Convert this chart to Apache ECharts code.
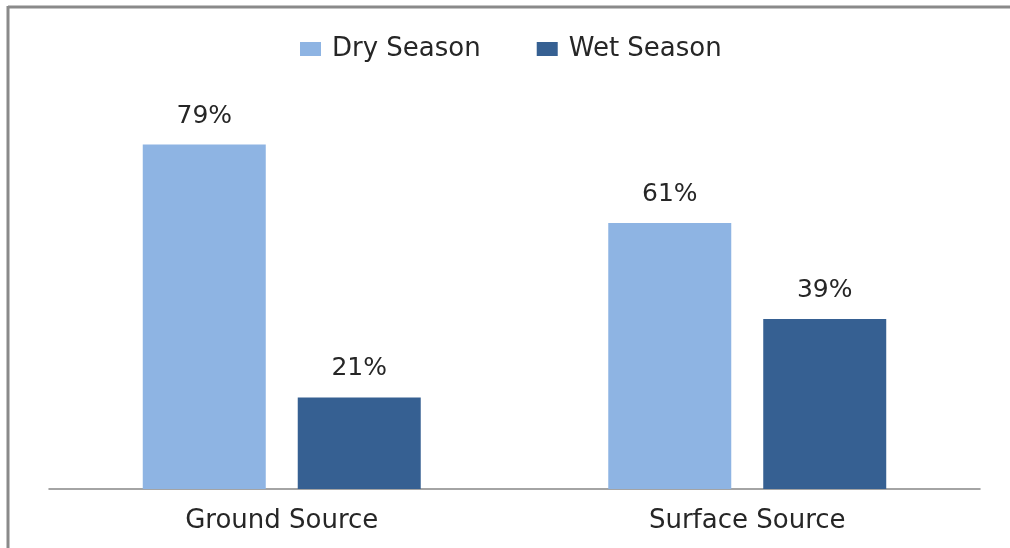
<!DOCTYPE html>
<html>
<head>
<meta charset="utf-8">
<script src="https://cdn.jsdelivr.net/npm/echarts@6/dist/echarts.min.js"></script>
<style>
html,body{margin:0;padding:0;background:#fff;}
#chart{width:1010px;height:548px;}
</style>
</head>
<body>
<div id="chart"></div>
<script>
const categories = ['Ground Source', 'Surface Source'];
const seriesNames = ['Dry Season', 'Wet Season'];
const dryValues = [79, 61];
const wetValues = [21, 39];

const FONT = 'DejaVu Sans';
const chart = echarts.init(document.getElementById('chart'));
const labelStyle = {
  show: true, position: 'top', distance: 16,
  formatter: p => p.value + '%',
  fontFamily: FONT, fontSize: 25, color: '#262626'
};
chart.setOption({
  animation: false,
  backgroundColor: '#fff',
  legend: {
    left: 295, top: 31,
    itemWidth: 21, itemHeight: 14, itemGap: 56,
    icon: 'rect',
    textStyle: { fontFamily: FONT, fontSize: 26, color: '#262626', padding: [0, 0, 0, 6] },
    data: seriesNames
  },
  grid: { left: 49, right: 30, top: 53, bottom: 59, containLabel: false },
  xAxis: {
    type: 'category', data: categories,
    axisLine: { lineStyle: { color: '#868686', width: 1.5 } },
    axisTick: { show: false },
    axisLabel: { fontFamily: FONT, fontSize: 26, color: '#262626', margin: 19 }
  },
  yAxis: {
    type: 'value', min: 0, max: 100,
    show: false, splitLine: { show: false }
  },
  series: [
    { name: seriesNames[0], type: 'bar', data: dryValues, barWidth: 123, barGap: '26%',
      itemStyle: { color: '#8EB4E3' }, label: labelStyle },
    { name: seriesNames[1], type: 'bar', data: wetValues, barWidth: 123,
      itemStyle: { color: '#366092' }, label: labelStyle }
  ],
  graphic: [
    { type: 'line', shape: { x1: 8, y1: 7, x2: 1010, y2: 7 }, style: { stroke: '#8a8a8a', lineWidth: 3 } },
    { type: 'line', shape: { x1: 8, y1: 6, x2: 8, y2: 548 }, style: { stroke: '#8a8a8a', lineWidth: 3 } }
  ]
});
</script>
</body>
</html>
